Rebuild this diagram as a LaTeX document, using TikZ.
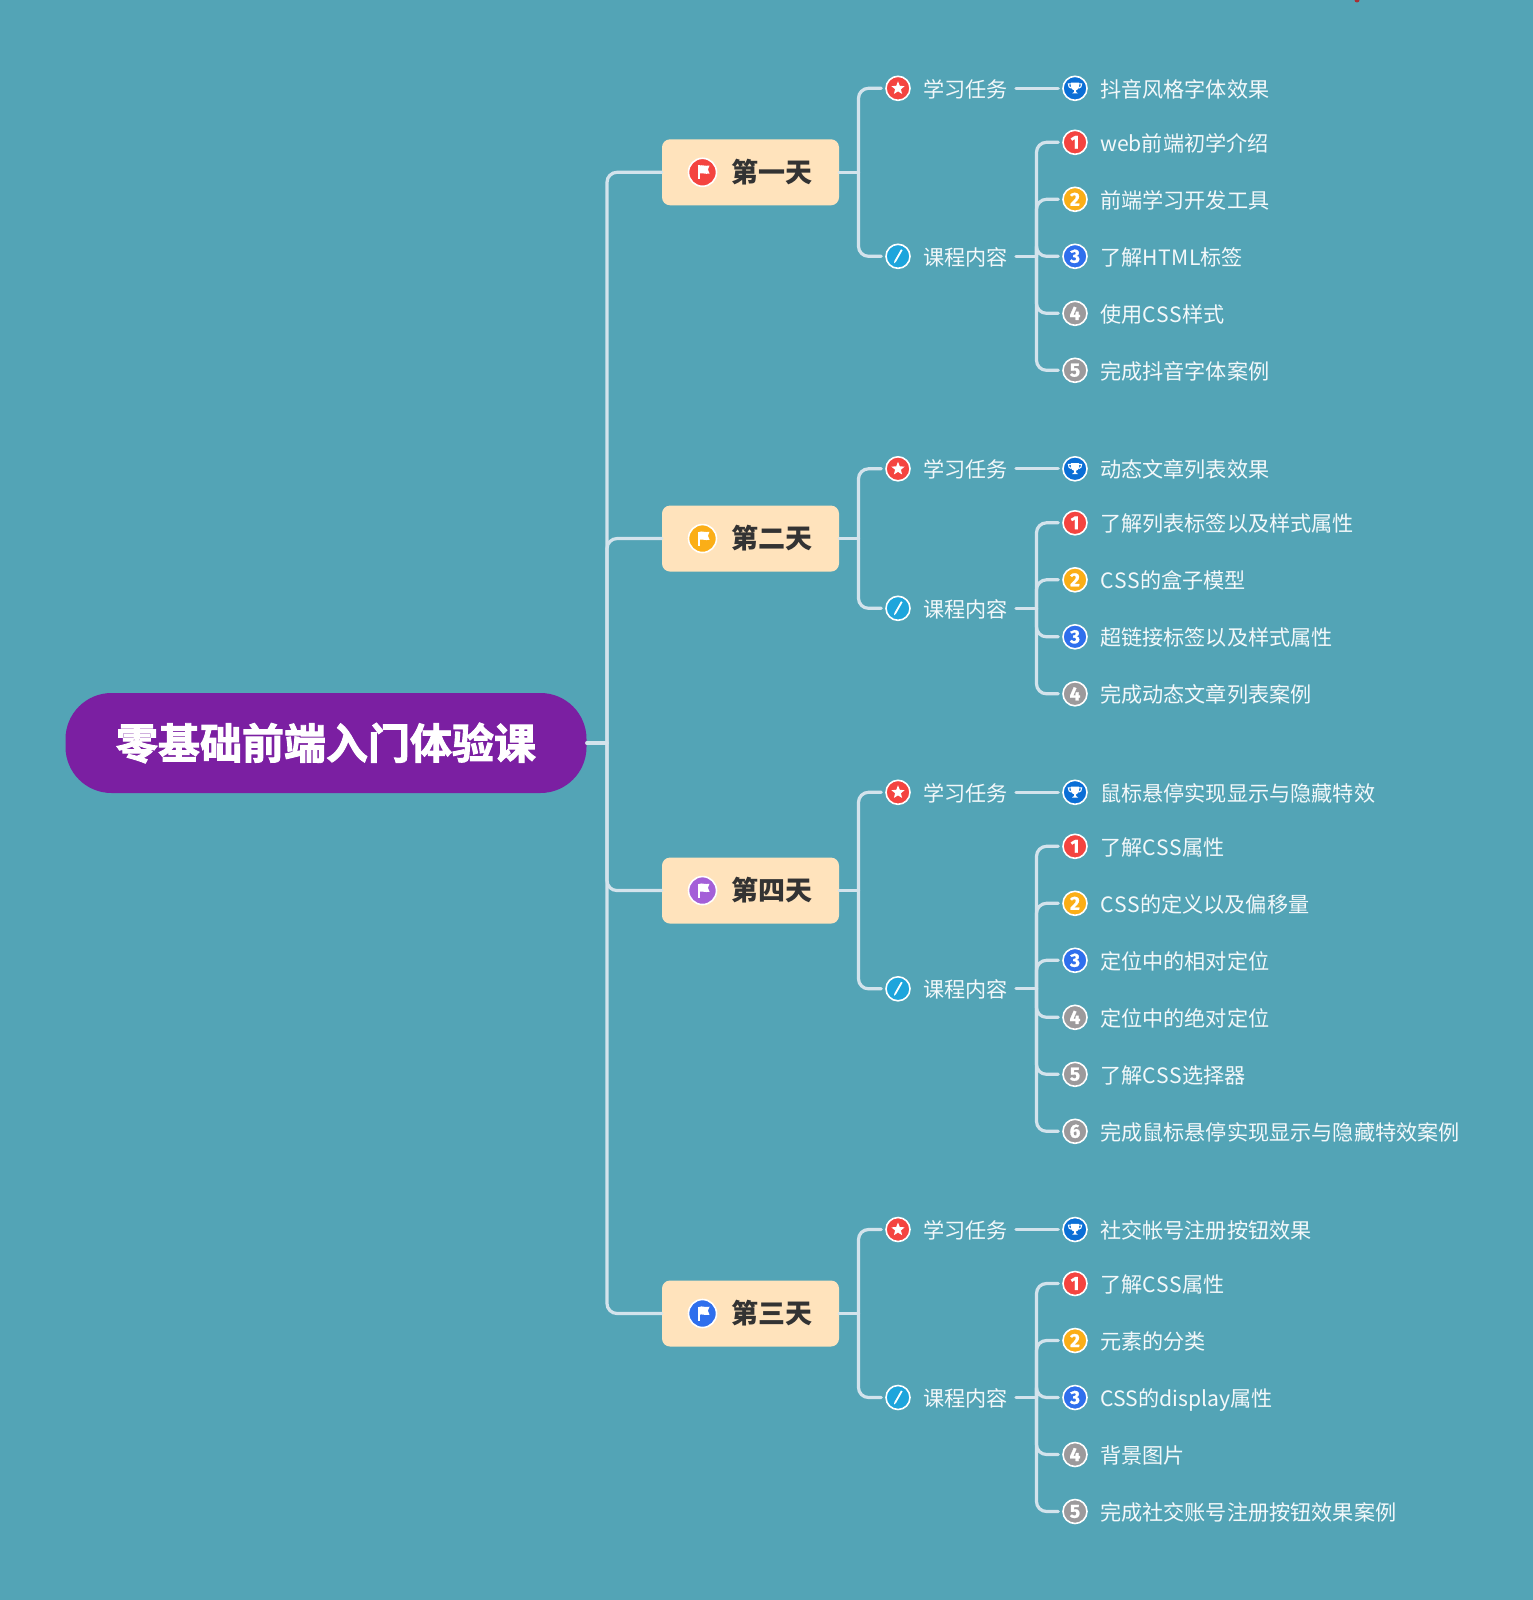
\documentclass[tikz,border=0pt]{standalone}
\usepackage{fontspec}
\usetikzlibrary{shapes.geometric}
\newfontfamily\cjk{Noto Sans CJK SC}
\newfontfamily\cjkroot[FakeBold=2.2]{Noto Sans CJK SC Bold}
\newfontfamily\numfont[FakeBold=1.2]{Fira Sans Bold}
\newcommand{\lsp}[2]{{\addfontfeature{LetterSpace=#1}#2}}
\definecolor{bgc}{HTML}{53A4B6}
\definecolor{linec}{HTML}{D3E3EC}
\definecolor{rootc}{HTML}{7B1FA2}
\definecolor{dayc}{HTML}{FFE3BC}
\definecolor{itemca}{HTML}{F44440}
\definecolor{itemcb}{HTML}{FBAE17}
\definecolor{itemcc}{HTML}{2F6FED}
\definecolor{itemcd}{HTML}{9C9A9C}
\definecolor{trophyc}{HTML}{0B6FD6}
\definecolor{penc}{HTML}{1EA5DC}
\definecolor{purplec}{HTML}{A45FD8}
\definecolor{textc}{HTML}{F3F8FA}
\tikzset{
  conn/.style={draw=linec,line width=3.2pt,line cap=round},
  rootbox/.style={fill=rootc,rounded corners=46pt,minimum width=521pt,minimum height=100pt,inner sep=0pt},
  roottext/.style={text=white,inner sep=0pt,font=\cjkroot\fontsize{42}{50}\selectfont},
  daybox/.style={fill=dayc,rounded corners=8pt,minimum width=177pt,minimum height=66pt,inner sep=0pt},
  daytext/.style={anchor=west,inner sep=0pt,text=black!80,font=\cjk\bfseries\fontsize{27}{32}\selectfont,text height=23.7pt,text depth=3.3pt},
  bodytext/.style={anchor=west,inner sep=0pt,text=textc,font=\cjk\fontsize{21.15}{25}\selectfont,text height=20pt,text depth=2pt},
  icosmall/.style={circle,draw=white,line width=1.6pt,minimum size=24pt,inner sep=0pt,text=white,font=\numfont\fontsize{19}{19}\selectfont},
  icobig/.style={circle,draw=white,line width=1.6pt,minimum size=28pt,inner sep=0pt},
  starglyph/.style={star,star points=5,star point ratio=2.3,fill=white,minimum size=14pt,inner sep=0pt},
  pics/flagglyph/.style={code={
    \fill[white] (-5,-7) -- (-3,-7) -- (-3,7) -- (-5,7) -- cycle;
    \fill[white] (-3,-6.8) .. controls (-0.5,-7.8) and (2.5,-5.8) .. (7,-6.8) -- (5.4,-2.8) -- (7,1.2) .. controls (2.5,2.2) and (-0.5,0.2) .. (-3,1.2) -- cycle;
  }},
  pics/penglyph/.style={code={
    \fill[white] (3,-7) -- (4.6,-6.2) -- (-2,5.4) -- (-4,7) -- (-3.6,4.6) -- cycle;
  }},
  pics/trophyglyph/.style={code={
    \fill[white] (-4.2,-5.6) -- (4.2,-5.6) -- (4.2,-1.5) .. controls (4.2,0.8) and (2,1.6) .. (1,1.8) -- (1,3.6) -- (3,5.2) -- (-3,5.2) -- (-1,3.6) -- (-1,1.8) .. controls (-2,1.6) and (-4.2,0.8) .. (-4.2,-1.5) -- cycle;
    \draw[white,line width=1.1pt] (-4.2,-4.4) -- (-6.6,-4.4) .. controls (-6.6,-1.8) and (-5.6,-0.4) .. (-3.6,-0.2);
    \draw[white,line width=1.1pt] (4.2,-4.4) -- (6.6,-4.4) .. controls (6.6,-1.8) and (5.6,-0.4) .. (3.6,-0.2);
  }}
}
\newcommand{\itemcolor}[1]{\ifcase#1\or itemca\or itemcb\or itemcc\else itemcd\fi}
% #1 id, #2 task row y, #3 item count, #4 flag colour, #5 title, #6 task item, #7 items
\newcommand{\daygroup}[7]{
  \pgfmathsetmacro{\cy}{#2+54+57*(#3-1)/2}
  \pgfmathsetmacro{\dy}{(#2+\cy)/2}
  \node[daybox] (#1) at (750.5,\dy) {};
  \node[icobig,fill=#4] (#1flag) at (702.5,\dy) {};
  \pic at (#1flag) {flagglyph};
  \node[daytext] (#1title) at (730.8,\dy) {#5};
  \coordinate (#1j) at (858.5,\dy);
  \coordinate (#1cj) at (1036.5,\cy);
  \draw[conn,rounded corners=10pt] (rj) |- (#1.west);
  \draw[conn] (#1.east) -- (#1j);
  % task row
  \node[icosmall,fill=itemca] (#1star) at (898,#2) {};
  \node[starglyph] (#1stg) at (898,#2) {};
  \node[bodytext] (#1tk) at (923,#2) {学习任务};
  \node[icosmall,fill=trophyc] (#1cup) at (1075,#2) {};
  \pic at (#1cup) {trophyglyph};
  \node[bodytext] (#1tkt) at (1100,#2) {#6};
  \draw[conn,rounded corners=10pt,shorten >=4pt] (#1j) |- (#1star.west);
  \draw[conn,shorten <=8pt,shorten >=4pt] (#1tk.east) -- (#1cup.west);
  % content row
  \node[icosmall,fill=penc] (#1pen) at (898,\cy) {};
  \pic at (#1pen) {penglyph};
  \node[bodytext] (#1ct) at (923,\cy) {课程内容};
  \draw[conn,rounded corners=10pt,shorten >=4pt] (#1j) |- (#1pen.west);
  \draw[conn,shorten <=8pt] (#1ct.east) -- (#1cj);
  \foreach \txt [count=\n] in {#7} {
    \pgfmathsetmacro{\iy}{#2+54+57*(\n-1)}
    \node[icosmall,fill=\itemcolor{\n}] (#1n\n) at (1075,\iy) {\n};
    \node[bodytext] (#1x\n) at (1100,\iy) {\txt};
    \draw[conn,rounded corners=10pt,shorten >=4pt] (#1cj) |- (#1n\n.west);
  }
}
\begin{document}
\begin{tikzpicture}[x=1pt,y=-1pt]
  \fill[bgc] (0,0) rectangle (1533,1600);
  \useasboundingbox (0,0) rectangle (1533,1600);
  \fill[red!80!black,opacity=.7] (1357,0) circle (2.5pt);
  \node[rootbox] (root) at (326,743) {};
  \node[roottext] (roott) at (326,743) {零基础前端入门体验课};
  \coordinate (rj) at (607,743);
  \draw[conn] (root.east) -- (rj);
  \daygroup{a}{88.3}{5}{itemca}{第一天}{抖音风格字体效果}{web前端初学介绍,前端学习开发工具,了解\lsp{2.5}{HTML}标签,使用\lsp{5}{CSS}样式,完成抖音字体案例}
  \daygroup{b}{468.8}{4}{itemcb}{第二天}{动态文章列表效果}{了解列表标签以及样式属性,\lsp{5}{CSS}的盒子模型,超链接标签以及样式属性,完成动态文章列表案例}
  \daygroup{c}{792.3}{6}{purplec}{第四天}{鼠标悬停实现显示与隐藏特效}{了解\lsp{5}{CSS}属性,\lsp{5}{CSS}的定义以及偏移量,定位中的相对定位,定位中的绝对定位,了解\lsp{5}{CSS}选择器,完成鼠标悬停实现显示与隐藏特效案例}
  \daygroup{d}{1229.5}{5}{itemcc}{第三天}{社交帐号注册按钮效果}{了解\lsp{5}{CSS}属性,元素的分类,CSS的display属性,背景图片,完成社交账号注册按钮效果案例}
\end{tikzpicture}
\end{document}
